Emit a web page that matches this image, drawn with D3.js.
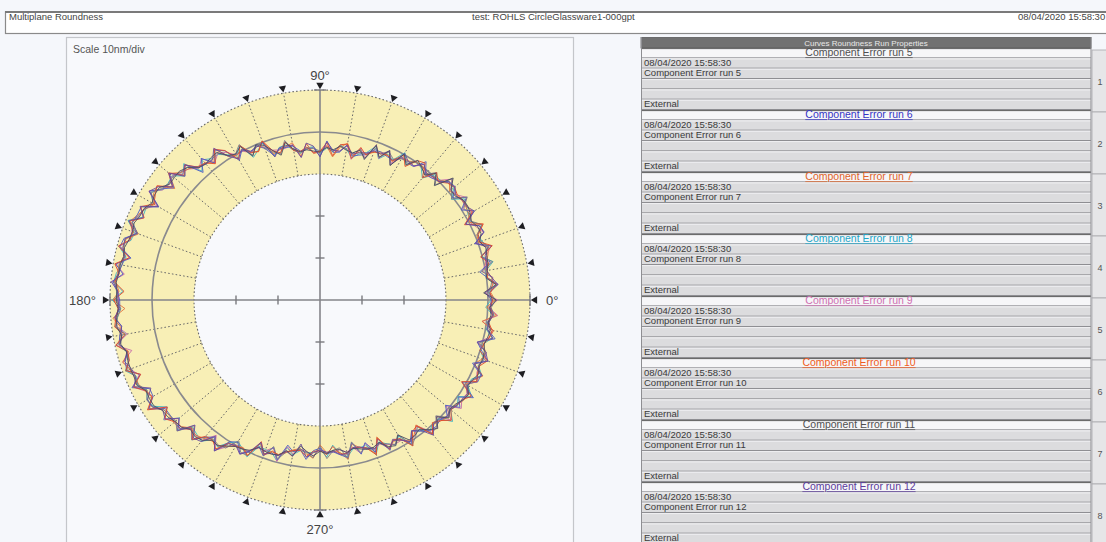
<!DOCTYPE html>
<html><head><meta charset="utf-8">
<script src="https://cdn.jsdelivr.net/npm/d3@7"></script>
<style>
html,body{margin:0;padding:0;background:#f5f7fb;overflow:hidden;}
svg{display:block;font-family:"Liberation Sans",Arial,sans-serif;}
</style></head><body>
<svg id="chart" width="1106" height="542"></svg>
<script>
// ---- data -------------------------------------------------------------
const sampleStep = 2.5;                               // degrees between profile samples
const sampleAngles = d3.range(0, 360, sampleStep);    // 144 sample angles, 0° = 3 o'clock, counter-clockwise

// radial deviation from the reference circle (nm), one value per sample angle
const run5 = [2.0,-1.0,2.1,-0.1,0.5,0.9,1.1,1.4,0.5,1.5,1.4,0.6,1.3,1.7,1.6,0.6,
  0.7,3.0,-1.5,0.9,-1.2,-0.2,0.6,-1.8,0.1,-3.9,-0.7,-3.2,-0.8,-4.7,-3.1,-4.1,
  -3.8,-3.1,-4.1,-3.6,-4.8,-4.5,-4.1,-4.4,-3.5,-1.6,-4.3,-2.7,-0.8,0.0,-2.2,1.2,
  0.1,0.8,2.9,2.7,2.3,2.7,4.6,5.4,5.3,5.2,6.7,6.7,6.2,7.2,7.3,7.9,
  7.5,7.7,8.2,7.9,8.3,8.3,8.7,8.4,8.5,8.1,8.6,8.8,8.0,8.6,7.7,8.0,
  8.0,7.9,8.1,6.7,6.9,6.9,5.8,5.7,5.0,4.8,3.6,4.1,3.6,2.1,2.4,1.2,
  0.3,0.0,-0.5,-2.0,-1.7,-1.5,-1.8,-3.3,-2.3,-4.9,-3.8,-2.8,-4.0,-3.4,-4.1,-4.1,
  -3.1,-3.8,-3.3,-2.7,-2.7,-3.3,-1.5,-0.9,-2.9,-0.5,-0.6,-1.2,0.3,1.5,-0.7,1.6,
  0.4,0.7,1.5,1.9,0.7,1.0,1.7,1.0,1.3,1.0,0.5,0.9,1.2,0.4,0.9,0.4];
const run6 = [1.0,0.4,2.6,0.3,-1.4,1.6,-0.3,2.9,-0.8,2.3,1.9,-0.9,2.5,-0.1,2.6,-0.1,
  2.0,1.7,0.0,-0.6,-0.9,1.5,-1.2,-1.3,-0.9,-2.5,-2.3,-1.9,-1.9,-3.7,-4.3,-4.9,
  -2.4,-4.5,-4.7,-2.1,-5.8,-3.7,-3.9,-4.2,-2.8,-2.8,-2.7,-3.9,-1.6,-0.2,-1.2,0.3,
  -1.6,2.1,3.6,1.1,4.0,1.2,5.6,4.3,6.8,3.9,6.1,8.2,4.3,8.0,8.0,8.3,
  6.3,8.9,9.3,6.1,9.4,7.3,9.8,8.3,7.7,7.7,9.0,7.6,8.4,9.0,7.5,8.6,
  9.0,6.3,9.4,5.7,5.9,8.4,5.0,5.0,5.2,5.2,3.2,5.2,2.6,1.2,3.8,0.0,
  -0.9,1.3,-0.3,-2.2,-0.5,-3.2,-0.6,-4.6,-3.3,-4.1,-1.9,-4.1,-4.7,-3.3,-3.7,-2.8,
  -1.9,-5.2,-2.0,-4.4,-1.4,-4.2,-0.5,-2.6,-1.7,0.6,-1.9,-0.6,0.6,0.9,0.4,1.1,
  -1.0,2.0,0.3,3.3,-0.9,2.3,2.3,-0.7,2.6,0.4,-1.2,2.7,0.6,0.2,1.6,0.7];
const run7 = [1.7,0.7,1.2,1.3,0.2,0.5,1.4,2.0,0.2,0.4,2.7,0.1,0.9,1.2,1.3,1.0,
  0.3,1.8,0.2,-0.3,-0.5,0.1,0.1,-0.8,-1.0,-2.8,-1.9,-1.9,-2.6,-3.5,-3.5,-4.7,
  -2.1,-3.3,-5.8,-3.3,-4.7,-5.1,-2.6,-5.5,-2.0,-2.6,-2.9,-3.6,0.2,-1.8,-1.1,0.2,
  -0.2,0.5,3.9,1.4,2.5,3.1,4.2,4.9,6.9,3.6,7.3,7.0,5.5,7.0,7.9,9.0,
  6.0,8.4,8.5,7.8,8.6,8.6,8.8,7.9,9.3,6.5,9.5,8.0,8.3,9.1,7.2,9.2,
  8.2,7.8,7.6,7.0,6.2,8.1,5.4,5.2,5.4,5.3,3.4,3.7,3.0,2.3,2.3,1.4,
  0.1,-0.4,0.8,-3.0,-0.6,-2.3,-1.7,-2.8,-3.8,-4.3,-3.2,-2.3,-5.5,-3.6,-3.8,-3.4,
  -1.5,-4.9,-3.6,-3.1,-1.1,-4.7,-0.9,-2.1,-1.5,-0.2,-0.9,-2.5,1.8,0.1,0.7,1.3,
  0.3,1.0,1.7,1.7,0.1,1.3,2.8,-0.3,1.1,1.3,0.2,1.3,2.0,-1.1,2.2,-0.3];
const run8 = [0.7,0.2,2.0,0.0,0.1,2.2,-0.1,2.1,1.0,0.7,2.4,0.4,0.7,1.4,2.0,-0.6,
  1.6,1.3,0.4,0.5,-2.1,-0.4,0.3,-2.0,0.5,-2.4,-1.7,-3.6,-1.1,-3.2,-4.0,-5.3,
  -3.5,-2.8,-4.6,-3.8,-5.1,-3.5,-3.6,-4.6,-3.8,-2.2,-2.4,-4.1,-0.2,-1.4,-2.5,1.5,
  -0.4,1.0,2.3,2.4,3.6,1.6,5.9,3.7,6.0,5.6,5.8,7.8,5.8,6.8,6.6,9.5,
  7.0,7.2,9.6,7.3,7.9,8.9,9.3,7.0,9.5,7.5,8.5,9.1,6.9,9.6,7.6,7.7,
  9.3,7.4,7.9,6.5,7.5,7.1,4.4,6.9,3.7,5.9,2.9,3.4,3.9,1.9,2.6,0.3,
  -1.0,-0.1,1.2,-2.3,-2.1,-1.9,-0.3,-4.0,-2.6,-3.8,-3.5,-3.7,-4.3,-2.6,-5.3,-3.1,
  -2.1,-3.7,-3.5,-3.8,-0.9,-3.4,-2.2,-1.1,-2.6,1.1,-2.0,-0.9,0.7,-0.2,0.0,2.8,
  0.6,1.3,0.1,2.8,0.6,0.7,2.5,0.8,1.6,0.0,0.3,2.0,0.2,0.6,1.4,-0.5];
const run9 = [2.3,-0.7,1.4,1.5,-0.7,0.4,1.0,2.7,-0.7,2.1,1.1,0.2,1.8,0.3,2.6,1.1,
  0.6,2.6,0.3,-0.6,-1.1,0.8,-1.2,-0.7,-0.8,-3.3,-0.8,-3.5,-0.7,-4.5,-2.6,-5.7,
  -2.6,-4.2,-4.3,-3.2,-4.5,-5.0,-2.7,-5.6,-2.4,-2.9,-3.0,-2.6,-1.2,-0.4,-1.4,0.0,
  -0.1,1.7,2.5,1.2,3.9,2.6,4.1,5.1,5.9,5.3,5.7,8.3,4.9,7.1,7.5,8.4,
  7.7,7.4,9.4,6.4,9.4,7.0,9.9,8.1,8.0,8.0,8.9,8.7,6.6,9.8,6.4,9.3,
  8.1,6.6,9.1,6.9,6.0,8.3,4.5,6.8,3.9,5.4,3.6,3.8,3.6,0.6,3.7,1.5,
  -0.1,1.2,-0.6,-1.8,-1.8,-3.1,-0.2,-4.2,-2.8,-4.1,-3.7,-2.9,-4.4,-3.7,-3.6,-4.0,
  -3.2,-4.1,-2.2,-4.2,-2.1,-2.9,-2.0,-1.3,-1.4,-0.1,-0.6,-2.3,0.8,1.3,-0.8,2.3,
  -0.8,2.4,1.2,1.5,0.2,2.2,1.2,0.9,1.7,1.5,-1.0,1.2,1.8,-1.0,2.5,0.2];
const run10 = [1.1,0.5,2.3,0.2,0.4,1.1,-0.4,3.0,0.4,0.8,2.9,-1.2,1.9,1.5,1.5,1.2,
  1.8,1.2,-0.2,1.1,-2.0,1.1,0.5,-2.3,-0.1,-2.6,-2.0,-2.3,-2.4,-3.8,-2.4,-5.5,
  -2.3,-2.7,-5.5,-2.5,-4.6,-4.8,-3.5,-4.3,-3.9,-1.5,-3.7,-2.8,0.3,-1.7,-1.3,1.4,
  -1.3,2.2,3.8,0.9,2.6,2.9,5.5,3.9,7.1,4.2,7.4,6.5,5.7,8.1,6.2,9.1,
  7.3,7.5,9.7,6.5,9.6,8.2,9.1,6.7,9.1,8.1,8.8,9.3,7.1,9.8,7.4,7.6,
  9.2,6.2,9.0,6.7,6.1,8.7,4.4,6.5,5.1,4.7,3.1,5.0,2.4,2.0,3.3,0.4,
  0.2,-0.2,0.9,-3.5,-0.9,-2.1,-1.9,-3.0,-3.6,-3.9,-2.6,-3.9,-4.1,-3.2,-5.0,-3.0,
  -2.9,-3.9,-3.7,-3.0,-0.8,-4.4,-0.8,-2.4,-1.9,1.2,-1.7,-2.2,1.7,-0.4,0.6,2.4,
  0.7,1.1,1.4,2.7,-1.1,2.1,1.4,1.1,2.4,-0.1,0.4,1.3,1.6,0.5,1.3,0.6];
const run11 = [1.9,0.1,0.9,1.4,-0.9,2.1,-0.2,2.2,0.7,0.5,2.5,0.6,1.1,0.6,2.8,-0.5,
  0.9,2.7,-1.2,1.2,-1.0,-0.3,0.0,-1.0,-1.2,-2.2,-1.1,-3.3,-0.9,-5.0,-2.8,-4.3,
  -3.6,-2.9,-4.5,-3.7,-4.5,-3.9,-3.7,-4.8,-3.7,-1.1,-3.9,-3.1,-1.4,-0.3,-2.0,1.7,
  0.2,0.7,2.7,2.3,2.2,3.0,4.7,5.0,5.7,5.5,6.1,7.6,5.9,6.9,7.6,8.5,
  6.2,8.7,8.3,7.5,8.5,8.4,9.0,8.5,8.3,7.5,8.4,9.1,7.8,8.9,7.5,7.8,
  8.9,7.6,7.8,6.4,7.6,7.3,5.5,5.1,4.8,6.2,2.3,5.1,2.7,1.7,2.2,1.8,
  -1.3,0.9,0.9,-3.1,-0.7,-3.4,-0.8,-2.9,-3.5,-4.2,-3.6,-2.4,-5.3,-2.2,-4.0,-4.5,
  -1.7,-5.4,-2.4,-3.3,-2.3,-3.0,-2.2,-1.2,-3.0,0.9,-0.3,-1.9,1.4,1.1,-1.0,1.4,
  0.2,0.9,1.6,2.0,0.3,2.0,1.5,0.8,1.2,1.5,-0.7,2.2,0.4,0.3,1.5,0.8];
const run12 = [0.8,-0.6,2.5,1.2,0.3,0.6,0.7,1.8,-0.5,2.2,1.8,-0.9,2.4,1.4,1.4,0.8,
  1.9,1.5,-0.1,-0.2,-0.6,0.7,-1.0,-0.9,0.3,-3.8,-0.9,-2.4,-2.2,-3.3,-3.7,-4.4,
  -2.7,-4.3,-4.2,-2.3,-5.9,-3.3,-2.5,-5.8,-2.6,-2.4,-2.5,-4.3,-0.1,-0.6,-0.9,0.5,
  -1.2,0.6,4.1,2.0,2.4,2.8,5.4,3.6,7.0,4.3,7.0,8.2,4.5,8.3,6.4,9.3,
  6.5,8.6,8.6,7.7,7.9,8.4,9.4,8.2,8.1,7.9,9.1,7.7,7.9,8.8,7.6,8.8,
  7.8,7.5,8.8,5.4,7.4,7.4,5.7,6.5,3.8,6.0,2.1,4.6,4.0,0.9,3.9,0.6,
  0.0,1.4,-0.1,-3.3,-1.0,-1.7,-1.6,-3.1,-2.2,-5.4,-2.4,-3.6,-4.3,-3.7,-3.9,-2.9,
  -2.8,-4.0,-3.8,-2.9,-2.2,-3.2,-1.0,-2.3,-1.5,0.0,-2.0,-1.0,2.0,0.0,0.2,1.0,
  0.5,1.2,1.3,1.6,0.5,1.1,2.6,-0.2,2.5,1.4,-1.3,2.1,0.5,0.6,1.2,0.5];

const runs = [run5, run6, run7, run8, run9, run10, run11, run12];
const runNames = ["Component Error run 5","Component Error run 6","Component Error run 7","Component Error run 8",
  "Component Error run 9","Component Error run 10","Component Error run 11","Component Error run 12"];
const runDate = "08/04/2020 15:58:30";
const runSource = "External";
const slotLabels = ["1","2","3","4","5","6","7","8"];

const scaleDivisions = [-30, -20, -10, 0, 10];   // nm, 10 nm per division
const ringLimits = [-10, 10];                     // nm, shaded band
const gridAngles = [10,20,30,40,50,60,70,80,100,110,120,130,140,150,160,170,
  190,200,210,220,230,240,250,260,280,290,300,310,320,330,340,350];
const markerAngles = [0,10,20,30,40,50,60,70,80,90,100,110,120,130,140,150,160,170,
  180,190,200,210,220,230,240,250,260,270,280,290,300,310,320,330,340,350];
const axisLabels = [{a:0, t:"0°"}, {a:90, t:"90°"}, {a:180, t:"180°"}, {a:270, t:"270°"}];

const headerLeft = "Multiplane Roundness";
const headerMid = "test: ROHLS CircleGlassware1-000gpt";
const headerRight = "08/04/2020 15:58:30";
const scaleText = "Scale 10nm/div";
const listTitle = "Curves Roundness Run Properties";

// ---- styles -----------------------------------------------------------
const traceColors = ["#4a4e62","#4c5cc4","#e2743c","#3cb4c4","#c86aa8","#e0482a","#7c7c88","#6a4c9c"];
const titleColors = ["#505050","#3434c4","#e0642a","#22a6c8","#d070b2","#f05c22","#505050","#5c3c9c"];
const drawOrder = [3, 4, 2, 1, 6, 5, 7, 0];       // indices into runs, first drawn at the bottom

// ---- layout -----------------------------------------------------------
const svg = d3.select("#chart");
const cx = 320, cy = 300;
const r = d3.scaleLinear().domain([-10, 10]).range([126, 210]);
const rad = a => (90 - a) * Math.PI / 180;              // polar angle -> d3 radial angle
const pt = (a, rr) => [cx + rr * Math.cos(a * Math.PI / 180), cy - rr * Math.sin(a * Math.PI / 180)];

// page header
svg.append("rect").attr("x", 5.5).attr("y", 12).attr("width", 1120).attr("height", 21.5)
  .attr("fill", "#ffffff").attr("stroke", "#8a8a8a").attr("stroke-width", 1.2);
svg.append("line").attr("x1", 5).attr("x2", 1106).attr("y1", 12).attr("y2", 12)
  .attr("stroke", "#7a7a7a").attr("stroke-width", 1.8);
svg.append("text").attr("x", 9).attr("y", 20).attr("font-size", 9.5).attr("fill", "#444").text(headerLeft);
svg.append("text").attr("x", 472).attr("y", 20).attr("font-size", 9.5).attr("fill", "#444").text(headerMid);
svg.append("text").attr("x", 1018).attr("y", 20).attr("font-size", 9.5).attr("fill", "#444").text(headerRight);

// polar panel
svg.append("rect").attr("x", 66.5).attr("y", 37.5).attr("width", 507).attr("height", 520)
  .attr("fill", "#f8f9fc").attr("stroke", "#c4c6ca").attr("stroke-width", 1.2);
svg.append("text").attr("x", 73).attr("y", 53).attr("font-size", 10.5).attr("fill", "#555").text(scaleText);

const g = svg.append("g");

// shaded band between the ring limits
g.append("path")
  .attr("transform", `translate(${cx},${cy})`)
  .attr("d", d3.arc()({innerRadius: r(ringLimits[0]), outerRadius: r(ringLimits[1]), startAngle: 0, endAngle: 2 * Math.PI}))
  .attr("fill", "#f8efb6");

// dotted radial grid inside the band
g.selectAll("line.grid").data(gridAngles).join("line").attr("class", "grid")
  .attr("x1", a => pt(a, r(ringLimits[0]))[0]).attr("y1", a => pt(a, r(ringLimits[0]))[1])
  .attr("x2", a => pt(a, r(ringLimits[1]))[0]).attr("y2", a => pt(a, r(ringLimits[1]))[1])
  .attr("stroke", "#6a6a6a").attr("stroke-width", 1).attr("stroke-dasharray", "1.6,2.2");

// dotted limit circles
g.selectAll("circle.lim").data(ringLimits).join("circle").attr("class", "lim")
  .attr("cx", cx).attr("cy", cy).attr("r", d => r(d))
  .attr("fill", "none").attr("stroke", "#6a6a6a").attr("stroke-width", 1.1).attr("stroke-dasharray", "1.6,2.2");

// reference circle
g.append("circle").attr("cx", cx).attr("cy", cy).attr("r", r(0))
  .attr("fill", "none").attr("stroke", "#8a8a8e").attr("stroke-width", 1.6);

// cross-hair axes
const rMax = r(ringLimits[1]);
g.append("line").attr("x1", cx - rMax).attr("x2", cx + rMax).attr("y1", cy).attr("y2", cy)
  .attr("stroke", "#85858a").attr("stroke-width", 1.6);
g.append("line").attr("x1", cx).attr("x2", cx).attr("y1", cy - rMax).attr("y2", cy + rMax)
  .attr("stroke", "#85858a").attr("stroke-width", 1.6);

// division ticks on the axes
const tickData = [];
[0, 90, 180, 270].forEach(a => scaleDivisions.filter(v => v < ringLimits[0]).forEach(v => tickData.push({a, v, len: 4.5})));
[0, 90, 180, 270].forEach(a => tickData.push({a, v: ringLimits[1], len: 6}));
g.selectAll("line.tick").data(tickData).join("line").attr("class", "tick")
  .each(function (d) {
    const [x, y] = pt(d.a, r(d.v));
    const horiz = d.a % 180 === 0;
    d3.select(this)
      .attr("x1", horiz ? x : x - d.len).attr("x2", horiz ? x : x + d.len)
      .attr("y1", horiz ? y - d.len : y).attr("y2", horiz ? y + d.len : y);
  })
  .attr("stroke", "#7a7a7e").attr("stroke-width", 1.4);

// profile traces
const radial = d3.lineRadial()
  .angle(d => rad(d[0]))
  .radius(d => r(d[1]))
  .curve(d3.curveLinearClosed);
const traces = g.append("g").attr("transform", `translate(${cx},${cy})`);
drawOrder.forEach(i => {
  traces.append("path")
    .attr("d", radial(sampleAngles.map((a, j) => [a, runs[i][j]])))
    .attr("fill", "none").attr("stroke", traceColors[i]).attr("stroke-width", 1)
    .attr("stroke-linejoin", "round").attr("opacity", 0.9);
});

// angle markers pointing inward
const tri = d3.symbol().type(d3.symbolTriangle).size(24);
g.selectAll("path.mark").data(markerAngles).join("path").attr("class", "mark")
  .attr("d", tri())
  .attr("transform", a => {
    const [x, y] = pt(a, rMax + 5);
    return `translate(${x},${y}) rotate(${270 - a})`;
  })
  .attr("fill", "#1e1e22");

// angle labels
g.selectAll("text.ang").data(axisLabels).join("text").attr("class", "ang")
  .attr("x", d => d.a === 0 ? cx + rMax + 16 : d.a === 180 ? cx - rMax - 14 : cx)
  .attr("y", d => d.a === 90 ? cy - rMax - 10 : d.a === 270 ? cy + rMax + 24 : cy + 4.5)
  .attr("text-anchor", d => d.a === 0 ? "start" : d.a === 180 ? "end" : "middle")
  .attr("font-size", 13).attr("fill", "#444")
  .text(d => d.t);

// ---- run list ---------------------------------------------------------
const lx = 641, lw = 450, rowH = 62 / 6, listTop = 48;
const list = svg.append("g");
list.append("rect").attr("x", lx).attr("y", 37.5).attr("width", lw).attr("height", 10.5)
  .attr("fill", "#717171").attr("stroke", "#5a5a5a").attr("stroke-width", 0.8);
list.append("text").attr("x", lx + 225).attr("y", 46).attr("text-anchor", "middle")
  .attr("font-size", 8).attr("fill", "#e8e8e8").text(listTitle);

const rowsData = [];
runNames.forEach((name, k) => {
  const y0 = listTop + k * 62;
  rowsData.push({y: y0, kind: "title", text: name, k});
  rowsData.push({y: y0 + rowH, kind: "row", text: runDate, k});
  rowsData.push({y: y0 + 2 * rowH, kind: "row", text: name, k});
  rowsData.push({y: y0 + 3 * rowH, kind: "row", text: "", k});
  rowsData.push({y: y0 + 4 * rowH, kind: "row", text: "", k});
  rowsData.push({y: y0 + 5 * rowH, kind: "row", text: runSource, k});
});
const rows = list.selectAll("g.row").data(rowsData).join("g").attr("class", "row")
  .attr("transform", d => `translate(0,${d.y})`);
rows.append("rect").attr("x", lx).attr("y", 0).attr("width", lw).attr("height", rowH)
  .attr("fill", d => d.kind === "title" ? "#f6f6f8" : "#dcdcde");
rows.append("line").attr("x1", lx).attr("x2", lx + lw).attr("y1", 0.6).attr("y2", 0.6)
  .attr("stroke", d => d.kind === "title" ? "#5c5c5c" : "#f0f0f2").attr("stroke-width", 1);
rows.append("line").attr("x1", lx).attr("x2", lx + lw).attr("y1", rowH - 0.5).attr("y2", rowH - 0.5)
  .attr("stroke", "#8e8e92").attr("stroke-width", 1);
rows.filter(d => d.kind === "row").append("text")
  .attr("x", lx + 3).attr("y", rowH - 2.6).attr("font-size", 9.5).attr("fill", "#3a3a3a").text(d => d.text);
const titles = rows.filter(d => d.kind === "title");
titles.append("text")
  .attr("x", lx + 218).attr("y", rowH - 2).attr("text-anchor", "middle")
  .attr("font-size", 10.5).attr("fill", d => titleColors[d.k])
  .attr("text-decoration", "underline").text(d => d.text);
list.append("line").attr("x1", lx + 0.5).attr("x2", lx + 0.5).attr("y1", 37).attr("y2", 542)
  .attr("stroke", "#8e8e92");
list.append("line").attr("x1", lx + lw).attr("x2", lx + lw).attr("y1", 37).attr("y2", 542)
  .attr("stroke", "#8e8e92");

// slot column
const slots = svg.append("g").selectAll("g").data(slotLabels).join("g")
  .attr("transform", (d, k) => `translate(${lx + lw + 1},${listTop + 2 + k * 62})`);
slots.append("rect").attr("x", 0).attr("y", 0).attr("width", 16).attr("height", 62)
  .attr("fill", "#e6e6e8").attr("stroke", "#a8a8ac").attr("stroke-width", 0.8);
slots.append("text").attr("x", 8).attr("y", 35).attr("text-anchor", "middle")
  .attr("font-size", 9).attr("fill", "#555").text(d => d);
</script>
</body></html>
